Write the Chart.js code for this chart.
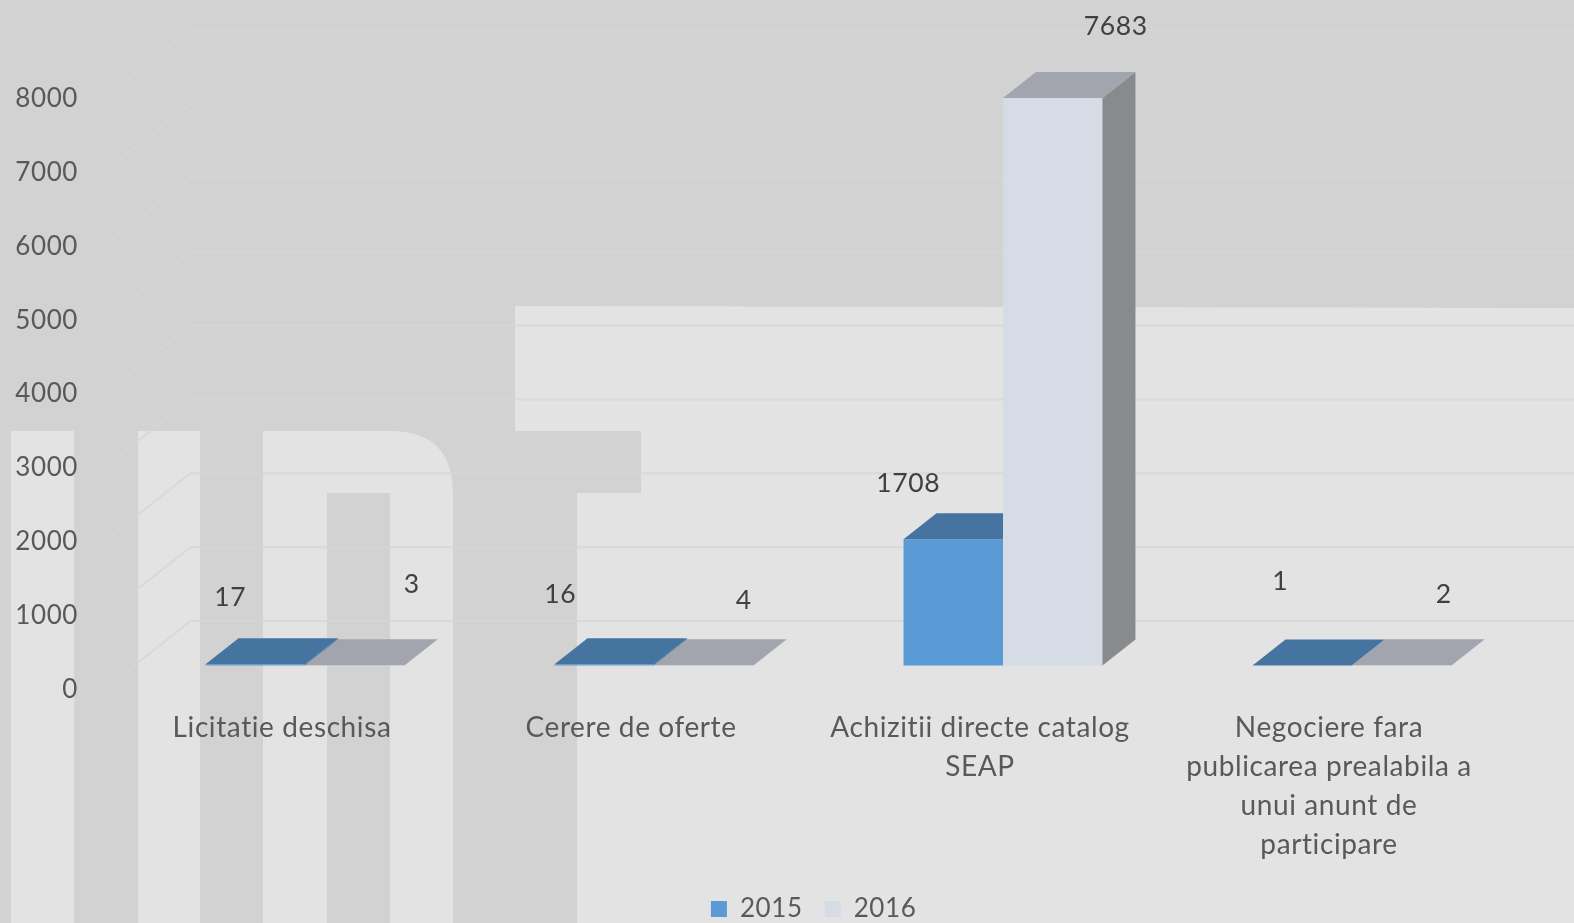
<!DOCTYPE html>
<html>
<head>
<meta charset="utf-8">
<style>
  html, body { margin: 0; padding: 0; background: #d2d2d2; overflow: hidden; }
  canvas { display: block; filter: blur(0.6px); }
</style>
</head>
<body>
<canvas id="chart" width="1574" height="923"></canvas>
<script src="https://cdn.jsdelivr.net/npm/chart.js@4/dist/chart.umd.min.js"></script>
<script>
const categories = [
  ['Licitatie deschisa'],
  ['Cerere de oferte'],
  ['Achizitii directe catalog', 'SEAP'],
  ['Negociere fara', 'publicarea prealabila a', 'unui anunt de', 'participare']
];
const years = ['2015', '2016'];
const values2015 = [17, 16, 1708, 1];
const values2016 = [3, 4, 7683, 2];

const FONT = 'Lato';
const DROP = 3;                        // Lato sits high, plot is moved down so tick labels line up
const DEPTH = { x: 33, y: 26 };        // top / side face of a bar
const SHIFT = { x: 23, y: 21 + DROP }; // bars sit a bit behind the front of the floor
const WALL = { x: 83, y: 65.5 };       // floor depth up to the back wall
const faces = [
  { top: '#44749f', side: '#3f6c94' },
  { top: '#a2a5ad', side: '#888b8e' }
];
// the labels float away from the bars in the original
const labelNudge = [
  [[-25, -67], [-44, -70], [-45, -56], [-22, -84]],
  [[57, -81], [40, -65], [63, -71.5], [42, -71]]
];

function poly(ctx, pts, color) {
  ctx.fillStyle = color;
  ctx.beginPath();
  pts.forEach((p, i) => i ? ctx.lineTo(p[0], p[1]) : ctx.moveTo(p[0], p[1]));
  ctx.closePath();
  ctx.fill();
}

function drawFaces(ctx, meta, f) {
  meta.data.forEach(b => {
    const l = b.x - b.width / 2, r = b.x + b.width / 2;
    poly(ctx, [[r, b.y], [r + DEPTH.x, b.y - DEPTH.y], [r + DEPTH.x, b.base - DEPTH.y], [r, b.base]], f.side);
    poly(ctx, [[l, b.y], [r, b.y], [r + DEPTH.x, b.y - DEPTH.y], [l + DEPTH.x, b.y - DEPTH.y]], f.top);
  });
}

const watermark = {
  id: 'watermark',
  beforeDraw(chart) {
    const ctx = chart.ctx, W = chart.width, H = chart.height;
    ctx.letterSpacing = '0.6px';
    ctx.save();
    ctx.fillStyle = '#d2d2d2';
    ctx.fillRect(0, 0, W, H);
    ctx.fillStyle = '#e3e3e3';
    ctx.fillRect(11, 431, 63, H - 431);
    ctx.fillRect(138, 431, 62, H - 431);
    // the "n"
    ctx.beginPath();
    ctx.moveTo(263, H);
    ctx.lineTo(263, 431);
    ctx.lineTo(390, 431);
    ctx.quadraticCurveTo(453, 431, 453, 494);
    ctx.lineTo(453, H);
    ctx.lineTo(390, H);
    ctx.lineTo(390, 493);
    ctx.lineTo(327, 493);
    ctx.lineTo(327, H);
    ctx.closePath();
    ctx.fill();
    // the "T" cut out of the light block
    ctx.beginPath();
    ctx.moveTo(515, 306);
    ctx.lineTo(W, 308);
    ctx.lineTo(W, H);
    ctx.lineTo(577, H);
    ctx.lineTo(577, 493);
    ctx.lineTo(641, 493);
    ctx.lineTo(641, 431);
    ctx.lineTo(515, 431);
    ctx.closePath();
    ctx.fill();
    ctx.restore();
  }
};

const walls = {
  id: 'walls',
  beforeDatasetsDraw(chart) {
    const ctx = chart.ctx, y = chart.scales.y, left = chart.chartArea.left;
    ctx.save();
    ctx.strokeStyle = 'rgba(214,214,214,0.8)';
    ctx.lineWidth = 2;
    y.ticks.forEach(t => {
      const py = y.getPixelForValue(t.value) - DROP;
      ctx.beginPath();
      ctx.moveTo(left, py);
      ctx.lineTo(left + WALL.x, py - WALL.y);
      ctx.lineTo(chart.width, py - WALL.y);
      ctx.stroke();
    });
    ctx.restore();
    ctx.save();
    ctx.translate(SHIFT.x, -SHIFT.y);
  },
  afterDatasetDraw(chart, args) {
    // datasets are painted last to first, 2016 has to end up in front of 2015
    if (args.index !== 0) return;
    const ctx = chart.ctx, front = chart.getDatasetMeta(1);
    drawFaces(ctx, args.meta, faces[0]);
    front.data.forEach(b => b.draw(ctx));
    drawFaces(ctx, front, faces[1]);
  },
  afterDatasetsDraw(chart) {
    const ctx = chart.ctx;
    ctx.fillStyle = '#404040';
    ctx.font = '26.5px ' + FONT;
    ctx.textAlign = 'center';
    ctx.textBaseline = 'middle';
    chart.data.datasets.forEach((ds, i) => {
      chart.getDatasetMeta(i).data.forEach((b, j) => {
        ctx.fillText(ds.data[j], b.x + labelNudge[i][j][0], b.y + labelNudge[i][j][1]);
      });
    });
    ctx.restore();
  },
  afterLayout(chart) {
    // legend sits right of centre and low in the original
    chart.legend.left += 59.5;
    chart.legend.right += 59.5;
    chart.legend.top += 9;
    chart.legend.bottom += 9;
    // long labels run past the legend's top, scale would clip them
    chart.scales.x.bottom = chart.height;
  }
};

new Chart(document.getElementById('chart'), {
  type: 'bar',
  data: {
    labels: categories,
    datasets: [
      { label: years[0], data: values2015, backgroundColor: '#5b9bd5', clip: false },
      { label: years[1], data: values2016, backgroundColor: '#d6dce5', clip: false }
    ]
  },
  options: {
    responsive: false,
    animation: false,
    layout: { padding: { top: 95.5 + DROP, right: 70.5, left: 0, bottom: 0 } },
    datasets: { bar: { categoryPercentage: 0.57, barPercentage: 1, borderWidth: 0 } },
    scales: {
      x: {
        grid: { display: false, drawTicks: false },
        border: { display: false },
        afterFit(scale) { scale.height = 175.5; },
        ticks: {
          color: '#595959',
          font: { family: FONT, size: 28, lineHeight: 1.4 },
          padding: 18.5,
          maxRotation: 0,
          minRotation: 0,
          autoSkip: false
        }
      },
      y: {
        min: 0,
        max: 8000,
        grid: { display: false, drawTicks: false },
        border: { display: false },
        afterFit(scale) { scale.width = 107.5; },
        ticks: {
          stepSize: 1000,
          color: '#595959',
          font: { family: FONT, size: 26 },
          padding: 29.5,
          callback: v => String(v)
        }
      }
    },
    plugins: {
      tooltip: { enabled: false },
      legend: {
        position: 'bottom',
        onClick: null,
        labels: {
          color: '#595959',
          font: { family: FONT, size: 26 },
          boxWidth: 16,
          boxHeight: 16,
          padding: 22
        }
      }
    }
  },
  plugins: [watermark, walls]
});
</script>
</body>
</html>
